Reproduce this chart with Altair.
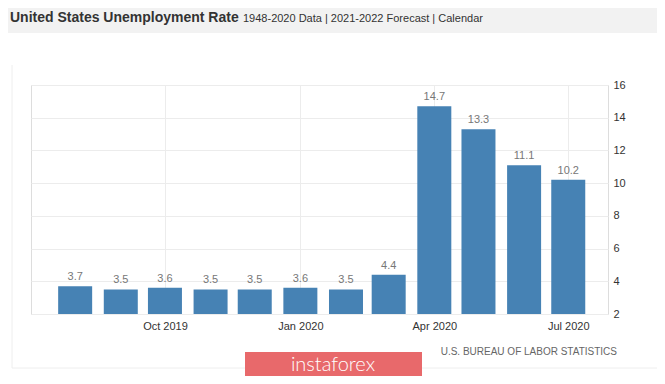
import altair as alt
import pandas as pd

months = ["2019-08-01", "2019-09-01", "2019-10-01", "2019-11-01", "2019-12-01", "2020-01-01",
          "2020-02-01", "2020-03-01", "2020-04-01", "2020-05-01", "2020-06-01", "2020-07-01"]
rates = [3.7, 3.5, 3.6, 3.5, 3.5, 3.6, 3.5, 4.4, 14.7, 13.3, 11.1, 10.2]
y_ticks = [2, 4, 6, 8, 10, 12, 14, 16]

df = pd.DataFrame({"month": months, "rate": rates})

FONT = "Liberation Sans"

xscale = alt.Scale(type="utc", nice=False, padding=0,
                   domain=[alt.DateTime(year=2019, month=7, date=2, utc=True),
                           alt.DateTime(year=2020, month=7, date=28, utc=True)])
tick_dates = [alt.DateTime(year=2019, month=10, date=1, utc=True),
              alt.DateTime(year=2020, month=1, date=1, utc=True),
              alt.DateTime(year=2020, month=4, date=1, utc=True),
              alt.DateTime(year=2020, month=7, date=1, utc=True)]

x = alt.X("month:T", scale=xscale, title=None,
          axis=alt.Axis(values=tick_dates, labelExpr="utcFormat(datum.value, '%b %Y')",
                        grid=True, gridColor="#ececec", ticks=False, domain=False,
                        labelColor="#333333", labelFontSize=11, labelFont=FONT,
                        labelFontWeight=500, labelPadding=6, labelOverlap=False))
y = alt.Y("rate:Q", scale=alt.Scale(domain=[2, 16], nice=False, zero=False, clamp=True,
                                    padding=0),
          title=None,
          axis=alt.Axis(orient="right", values=y_ticks, grid=True, gridColor="#ececec",
                        ticks=False, domain=False, labelColor="#333333", labelFontSize=11,
                        labelFont=FONT, labelPadding=5, labelOverlap=False,
                        labelFlush=False))

base = alt.Chart(df)

bars = base.mark_bar(color="#4682B4", size=34).encode(x=x, y=y, y2=alt.datum(2))
labels = base.mark_text(dy=-9, color="#777777", fontSize=11, font=FONT).encode(
    x=x, y=y, text=alt.Text("rate:Q", format=".1f"))

deco = alt.Chart(pd.DataFrame({"k": [0]}))
header = deco.mark_rect(color="#f2f2f2").encode(
    x=alt.value(-31), x2=alt.value(640), y=alt.value(-90), y2=alt.value(-52))
title = deco.mark_text(align="left", baseline="alphabetic", fontSize=14, fontWeight="bold",
                       font=FONT, color="#333333").encode(
    x=alt.value(-21), y=alt.value(-63), text=alt.value("United States Unemployment Rate"))
subtitle = deco.mark_text(align="left", baseline="alphabetic", fontSize=11,
                          font=FONT, color="#333333").encode(
    x=alt.value(212), y=alt.value(-63),
    text=alt.value("1948-2020 Data | 2021-2022 Forecast | Calendar"))
left_border = deco.mark_rule(color="#eeeeee").encode(
    x=alt.value(-19), y=alt.value(-20), y2=alt.value(283))
bottom_border = deco.mark_rule(color="#eeeeee").encode(
    x=alt.value(-19), x2=alt.value(640), y=alt.value(283))
source = deco.mark_text(align="right", baseline="alphabetic", fontSize=10, font=FONT,
                        color="#666666").encode(
    x=alt.value(586), y=alt.value(270), text=alt.value("U.S. BUREAU OF LABOR STATISTICS"))
logo = deco.mark_rect(color="#e8696b").encode(
    x=alt.value(214), x2=alt.value(391), y=alt.value(267), y2=alt.value(300))
logo_text = deco.mark_text(align="center", baseline="alphabetic", fontSize=20, font="Lato",
                           fontWeight=300, color="white").encode(
    x=alt.value(302), y=alt.value(286), text=alt.value("instaforex"))

chart = alt.layer(header, title, subtitle, left_border, bottom_border,
                  bars, labels, source, logo, logo_text).properties(
    width=577, height=229,
    autosize=alt.AutoSizeParams(type="none"),
    padding={"left": 23, "top": 77, "right": 49, "bottom": 62},
).configure_view(strokeWidth=0, strokeOpacity=0).configure(background="white").configure_axis(
    labelOverlap=False).configure_axisY(labelOverlap=False)

chart.save("out.html", embed_options={"renderer": "svg", "actions": False})
